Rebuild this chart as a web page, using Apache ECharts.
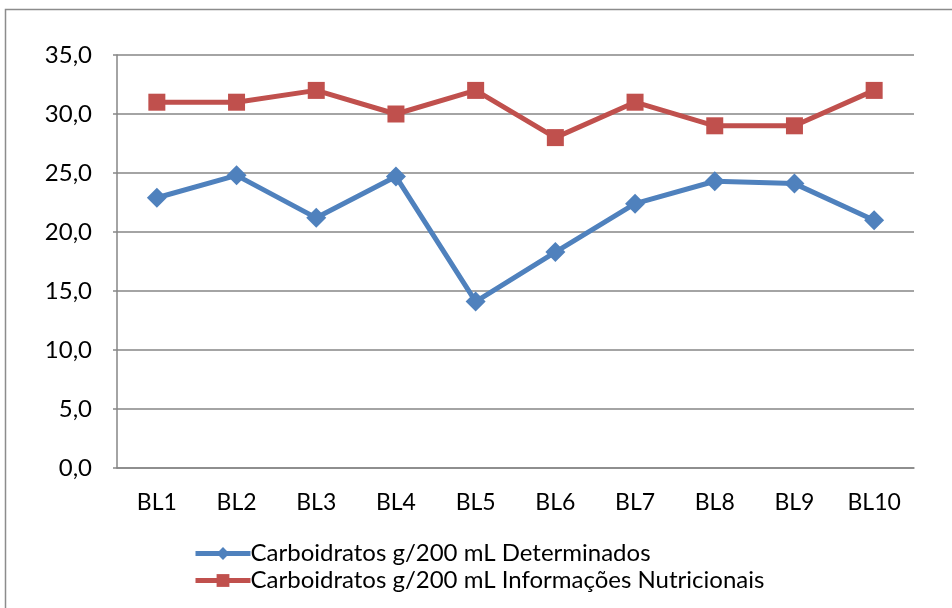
<!DOCTYPE html>
<html>
<head>
<meta charset="utf-8">
<script src="https://cdn.jsdelivr.net/npm/echarts@6/dist/echarts.min.js"></script>
<style>
  html, body { margin: 0; padding: 0; background: #fff; }
  #chart { width: 952px; height: 608px; }
</style>
</head>
<body>
<div id="chart"></div>
<script>
// Amostras analisadas
const categories = ['BL1', 'BL2', 'BL3', 'BL4', 'BL5', 'BL6', 'BL7', 'BL8', 'BL9', 'BL10'];
// Carboidratos (g/200 mL) determinados em laboratório
const determinados = [22.9, 24.8, 21.2, 24.7, 14.1, 18.3, 22.4, 24.3, 24.1, 21.0];
// Carboidratos (g/200 mL) declarados na rotulagem
const informacoes = [31, 31, 32, 30, 32, 28, 31, 29, 29, 32];
const seriesNames = [
  'Carboidratos g/200 mL Determinados',
  'Carboidratos g/200 mL Informações Nutricionais'
];

const FONT = 'Lato, "Open Sans", sans-serif';
const chart = echarts.init(document.getElementById('chart'), null, { renderer: 'canvas' });

chart.setOption({
  animation: false,
  backgroundColor: '#ffffff',
  graphic: [{
    type: 'rect',
    shape: { x: 5.5, y: 9.5, width: 1000, height: 700 },
    style: { fill: 'none', stroke: '#8c8c8c', lineWidth: 1.5 },
    silent: true
  }],
  grid: { left: 117, right: 38, top: 55, bottom: 140, containLabel: false },
  legend: {
    orient: 'vertical',
    left: 188,
    top: 535,
    itemWidth: 55,
    itemHeight: 16,
    itemGap: 0,
    lineStyle: { width: 5 },
    textStyle: { fontFamily: FONT, fontSize: 24, lineHeight: 27, color: '#000', padding: [0, 0, 0, -5] },
    data: seriesNames
  },
  xAxis: {
    type: 'category',
    data: categories,
    boundaryGap: true,
    axisLine: { lineStyle: { color: '#868686', width: 1.5 } },
    axisTick: { show: false },
    axisLabel: { fontFamily: FONT, fontSize: 23, color: '#000', margin: 23 }
  },
  yAxis: {
    type: 'value',
    min: 0,
    max: 35,
    interval: 5,
    axisLine: { show: true, lineStyle: { color: '#868686', width: 1.5 } },
    axisTick: { show: true, length: 4, lineStyle: { color: '#868686', width: 1.5 } },
    splitLine: { lineStyle: { color: '#868686', width: 1.5 } },
    axisLabel: {
      fontFamily: FONT, fontSize: 24, color: '#000', margin: 25,
      formatter: v => v.toFixed(1).replace('.', ',')
    }
  },
  series: [
    {
      name: seriesNames[0],
      type: 'line',
      data: determinados,
      symbol: 'diamond',
      symbolSize: 20,
      lineStyle: { color: '#4F81BD', width: 5 },
      itemStyle: { color: '#4F81BD' },
      z: 3
    },
    {
      name: seriesNames[1],
      type: 'line',
      data: informacoes,
      symbol: 'rect',
      symbolSize: 17,
      lineStyle: { color: '#C0504D', width: 5 },
      itemStyle: { color: '#C0504D' },
      z: 2
    }
  ]
});
</script>
</body>
</html>
